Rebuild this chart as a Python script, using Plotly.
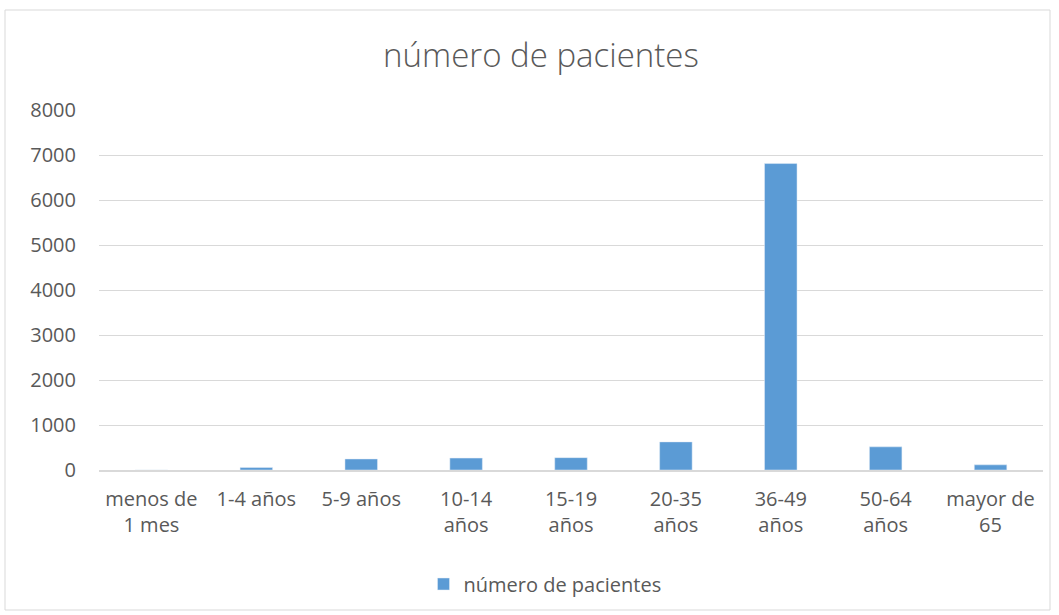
import plotly.graph_objects as go

categories = ["menos de<br>1 mes", "1-4 años", "5-9 años", "10-14<br>años", "15-19<br>años",
              "20-35<br>años", "36-49<br>años", "50-64<br>años", "mayor de<br>65"]
values = [0, 55, 245, 265, 275, 625, 6810, 515, 115]
series_name = "número de pacientes"
y_ticks = [0, 1000, 2000, 3000, 4000, 5000, 6000, 7000, 8000]

W, H = 1059, 615
ml, mr, mt, mb = 99, 16, 110, 145
pw, ph = W - ml - mr, H - mt - mb

def px_x(x):
    return (x - ml) / pw

def px_y(y):
    return (H - mb - y) / ph

FONT = "'Open Sans', 'Noto Sans', sans-serif"
GRAY = "#595959"

fig = go.Figure(go.Bar(
    x=categories, y=values, name=series_name,
    marker=dict(color="#5b9bd5"), showlegend=True,
))

fig.update_layout(
    width=W, height=H,
    margin=dict(l=ml, r=mr, t=mt, b=mb),
    paper_bgcolor="white", plot_bgcolor="white",
    font=dict(family=FONT, color=GRAY, size=20),
    title=dict(text="número de pacientes", x=541 / W, xanchor="center",
               y=1 - 55 / H, yanchor="middle",
               font=dict(size=33, color=GRAY, family=FONT, weight=300)),
    bargap=0.69,
    showlegend=True,
    legend=dict(orientation="h", x=px_x(545), xanchor="center", y=px_y(584), yanchor="middle",
                font=dict(size=20, color=GRAY), itemwidth=30),
    xaxis=dict(showgrid=False, showline=True, linecolor="#d9d9d9", linewidth=2,
               ticks="", tickfont=dict(size=20, color=GRAY), ticklabelstandoff=10),
    yaxis=dict(range=[0, 8000], tickvals=y_ticks, showgrid=True, gridcolor="#d9d9d9",
               gridwidth=1, zeroline=False, showline=False, ticks="",
               tickfont=dict(size=20, color=GRAY), ticklabelstandoff=22),
    shapes=[dict(type="rect", xref="paper", yref="paper",
                 x0=px_x(5), x1=px_x(1050), y0=px_y(610), y1=px_y(10),
                 line=dict(color="#d9d9d9", width=1), fillcolor="rgba(0,0,0,0)", layer="below")],
)

fig.write_html("out.html", config={"displayModeBar": False},
               post_script="document.body.style.margin='0';")
